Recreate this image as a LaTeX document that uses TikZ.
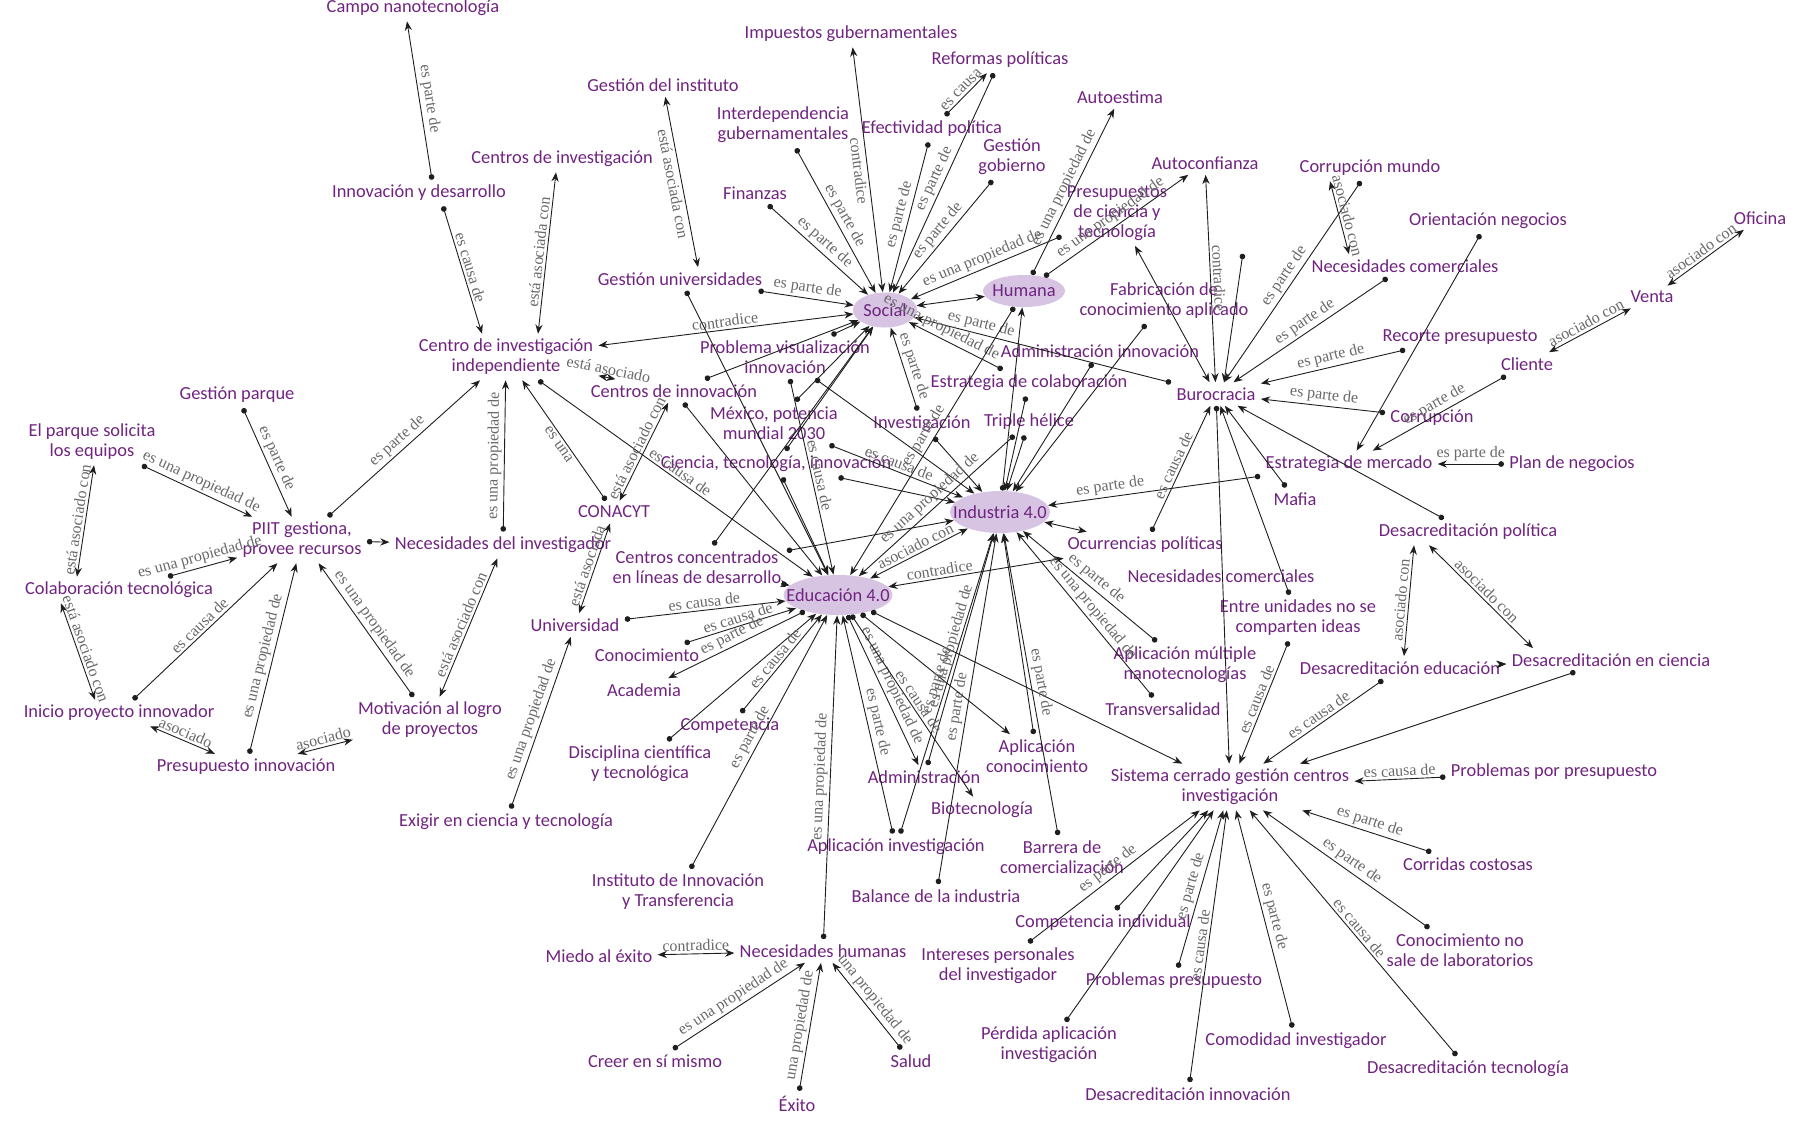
\documentclass[tikz,border=0pt]{standalone}
\usepackage{fontspec}
\setmainfont{Carlito}
\newfontfamily\LblSerif{Liberation Serif}
\usetikzlibrary{arrows.meta,shapes.geometric}
\definecolor{nodecol}{RGB}{112,36,128}
\definecolor{hubfill}{RGB}{214,196,226}
\definecolor{linecol}{RGB}{30,30,30}
\definecolor{lblcol}{RGB}{105,105,105}
\newcommand\NodeFont{\fontsize{9.2}{10}\selectfont}
\begin{document}
\begin{tikzpicture}[x=0.5pt,y=-0.5pt,
  nd/.style={text=nodecol,font=\NodeFont,align=center,inner sep=2.5pt},
  hub/.style={ellipse,fill=hubfill,inner sep=0pt},
  hubtxt/.style={text=nodecol,font=\NodeFont,inner sep=0pt},
  rel/.style={draw=linecol,line width=0.45pt,{Circle[length=2.8pt]}-{Stealth[length=4.6pt,width=3.6pt]}},
  bi/.style={draw=linecol,line width=0.45pt,{Stealth[length=4.6pt,width=3.6pt]}-{Stealth[length=4.6pt,width=3.6pt]}},
  lb/.style={font=\LblSerif\fontsize{8}{8}\selectfont,text=lblcol,sloped,inner sep=1.2pt,above}]
\useasboundingbox (0,0) rectangle (1803,1132);
% hubs
\node[hub,minimum width=32pt,minimum height=17.5pt] (social) at (885,310) {};
\node[hubtxt] at (social) {Social};
\node[hub,minimum width=41pt,minimum height=16pt] (humana) at (1024,291) {};
\node[hubtxt] at (humana) {Humana};
\node[hub,minimum width=50pt,minimum height=21pt] (ind) at (1000,512) {};
\node[hubtxt] at (ind) {Industria 4.0};
\node[hub,minimum width=54.5pt,minimum height=20pt] (edu) at (838,595) {};
\node[hubtxt] at (edu) {Educación 4.0};
% nodes
\node[nd] (campo) at (413,8) {Campo nanotecnología};
\node[nd] (innov) at (419,193) {Innovación y desarrollo};
\node[nd] (centinv) at (562,159) {Centros de investigación};
\node[nd] (gestinst) at (663,85) {Gestión del instituto};
\node[nd] (impuestos) at (851,34) {Impuestos gubernamentales};
\node[nd] (reformas) at (1000,60) {Reformas políticas};
\node[nd] (interdep) at (783,125) {Interdependencia\\gubernamentales};
\node[nd] (efectiv) at (932,129) {Efectividad política};
\node[nd] (autoestima) at (1120,97) {Autoestima};
\node[nd] (finanzas) at (755,193) {Finanzas};
\node[nd] (gestgob) at (1012,157) {Gestión\\gobierno};
\node[nd] (presup) at (1117,213) {Presupuestos\\de ciencia y\\tecnología};
\node[nd] (autoconf) at (1205,163) {Autoconfianza};
\node[nd] (corrmundo) at (1370,168) {Corrupción mundo};
\node[nd] (orient) at (1488,221) {Orientación negocios};
\node[nd] (oficina) at (1760,218) {Oficina};
\node[nd] (neccom1) at (1405,266) {Necesidades comerciales};
\node[nd] (venta) at (1652,297) {Venta};
\node[nd] (gestuniv) at (680,279) {Gestión universidades};
\node[nd] (fabric) at (1164,301) {Fabricación de\\conocimiento aplicado};
\node[nd] (recorte) at (1460,337) {Recorte presupuesto};
\node[nd] (cliente) at (1527,364) {Cliente};
\node[nd] (centroind) at (506,357) {Centro de investigación\\independiente};
\node[nd] (problema) at (785,357) {Problema visualización\\innovación};
\node[nd] (adminnov) at (1100,351) {Administración innovación};
\node[nd] (buro) at (1216,394) {Burocracia};
\node[nd] (corrupcion) at (1432,418) {Corrupción};
\node[nd] (gestparque) at (237,395) {Gestión parque};
\node[nd] (centinnov) at (674,391) {Centros de innovación};
\node[nd] (estrcolab) at (1029,383) {Estrategia de colaboración};
\node[nd] (mexico) at (774,423) {México, potencia\\mundial 2030};
\node[nd] (parque) at (92,442) {El parque solicita\\los equipos};
\node[nd] (investig) at (922,424) {Investigación};
\node[nd] (triple) at (1029,422) {Triple hélice};
\node[nd] (estrmerc) at (1349,464) {Estrategia de mercado};
\node[nd] (plan) at (1572,464) {Plan de negocios};
\node[nd] (ciencia) at (776,464) {Ciencia, tecnología, innovación};
\node[nd] (mafia) at (1295,499) {Mafia};
\node[nd] (conacyt) at (614,512) {CONACYT};
\node[nd] (piit) at (302,540) {PIIT gestiona,\\provee recursos};
\node[nd] (necinv) at (503,545) {Necesidades del investigador};
\node[nd] (ocurr) at (1145,545) {Ocurrencias políticas};
\node[nd] (desacpol) at (1468,532) {Desacreditación política};
\node[nd] (centconc) at (697,567) {Centros concentrados\\en líneas de desarrollo};
\node[nd] (neccom2) at (1221,576) {Necesidades comerciales};
\node[nd] (colab) at (119,590) {Colaboración tecnológica};
\node[nd] (univ) at (575,625) {Universidad};
\node[nd] (entre) at (1298,618) {Entre unidades no se\\comparten ideas};
\node[nd] (conoc) at (647,655) {Conocimiento};
\node[nd] (aplmult) at (1185,665) {Aplicación múltiple\\nanotecnologías};
\node[nd] (desaceduc) at (1400,668) {Desacreditación educación};
\node[nd] (desaccien) at (1611,660) {Desacreditación en ciencia};
\node[nd] (academia) at (644,690) {Academia};
\node[nd] (inicio) at (119,713) {Inicio proyecto innovador};
\node[nd] (motiv) at (430,720) {Motivación al logro\\de proyectos};
\node[nd] (compet) at (730,726) {Competencia};
\node[nd] (transv) at (1163,709) {Transversalidad};
\node[nd] (aplcon) at (1037,756) {Aplicación\\conocimiento};
\node[nd] (discip) at (640,764) {Disciplina científica\\y tecnológica};
\node[nd] (presinn) at (246,767) {Presupuesto innovación};
\node[nd] (admin) at (924,777) {Administración};
\node[nd] (sistema) at (1230,787) {Sistema cerrado gestión centros\\investigación};
\node[nd] (probpor) at (1554,772) {Problemas por presupuesto};
\node[nd] (biotec) at (982,810) {Biotecnología};
\node[nd] (exigir) at (506,822) {Exigir en ciencia y tecnología};
\node[nd] (aplinv) at (896,847) {Aplicación investigación};
\node[nd] (barrera) at (1062,857) {Barrera de\\comercialización};
\node[nd] (corridas) at (1468,864) {Corridas costosas};
\node[nd] (instit) at (678,892) {Instituto de Innovación\\y Transferencia};
\node[nd] (balance) at (936,896) {Balance de la industria};
\node[nd] (compind) at (1103,923) {Competencia individual};
\node[nd] (conocno) at (1460,950) {Conocimiento no\\sale de laboratorios};
\node[nd] (miedo) at (599,956) {Miedo al éxito};
\node[nd] (nechum) at (823,951) {Necesidades humanas};
\node[nd] (intereses) at (998,966) {Intereses personales\\del investigador};
\node[nd] (probpres) at (1174,981) {Problemas presupuesto};
\node[nd] (perdida) at (1049,1045) {Pérdida aplicación\\investigación};
\node[nd] (comodidad) at (1296,1041) {Comodidad investigador};
\node[nd] (creer) at (655,1061) {Creer en sí mismo};
\node[nd] (salud) at (911,1061) {Salud};
\node[nd] (desactec) at (1468,1069) {Desacreditación tecnología};
\node[nd] (exito) at (797,1104) {Éxito};
\node[nd] (desacinn) at (1188,1094) {Desacreditación innovación};
% left cluster
\draw[rel] ([xshift=6.5pt]innov.north) -- node[lb]{es parte de} ([xshift=-3pt]campo.south);
\draw[rel] ([xshift=12pt]innov.south) -- node[lb]{es causa de} ([xshift=-12pt]centroind.north);
\draw[bi] ([xshift=-3pt]centinv.south) -- node[lb]{está asociada con} ([xshift=16pt]centroind.north);
\draw[bi] (gestinst) -- node[lb,below]{está asociada con} ([xshift=9pt]gestuniv.north);
\draw[bi] (social) -- node[lb]{contradice} (centroind);
\draw[bi] (centinnov) -- node[lb]{está asociado} (centroind);
\draw[rel] (conacyt) -- node[lb,below]{es una} (centroind);
\draw[rel] (centroind) -- node[lb]{es causa de} (edu);
\draw[bi] (conacyt) -- node[lb]{está asociado con} (centinnov);
\draw[bi] (conacyt) -- node[lb]{está asociada} (univ);
\draw[rel] (necinv) -- node[lb]{es una propiedad de} (centroind);
\draw[rel] (piit) -- node[lb]{es parte de} (centroind);
\draw[rel] (gestparque) -- node[lb]{es parte de} (piit);
\draw[rel] (parque) -- node[lb]{es una propiedad de} (piit);
\draw[bi] ([xshift=1pt]parque.south) -- node[lb]{está asociado con} ([xshift=-21pt]colab.north);
\draw[rel] (colab) -- node[lb]{es una propiedad de} (piit);
\draw[bi] ([xshift=-29pt]colab.south) -- node[lb]{está asociado con} ([xshift=-12pt]inicio.north);
\draw[rel] (inicio) -- node[lb]{es causa de} (piit);
\draw[rel] (presinn) -- node[lb]{es una propiedad de} (piit);
\draw[rel] (motiv) -- node[lb]{es una propiedad de} (piit);
\draw[rel] (piit) -- (necinv);
\draw[bi] (necinv) -- node[lb]{está asociado con} (motiv);
\draw[bi] (inicio) -- node[lb]{asociado} (presinn);
\draw[bi] (presinn) -- node[lb]{asociado} (motiv);
\draw[rel] (exigir) -- node[lb]{es una propiedad de} (univ);
% social
\draw[bi] (impuestos) -- node[lb,below]{contradice} (social);
\draw[rel] (interdep) -- node[lb]{es parte de} (social);
\draw[rel] (finanzas) -- node[lb]{es parte de} (social);
\draw[rel] (gestuniv) -- node[lb]{es parte de} (social);
\draw[rel] (efectiv) -- node[lb]{es parte de} (social);
\draw[rel] (reformas) -- node[lb]{es parte de} (social);
\draw[rel] (efectiv) -- node[lb]{es causa} (reformas);
\draw[rel] (gestgob) -- node[lb]{es parte de} (social);
\draw[rel] (presup) -- node[lb]{es una propiedad de} (social);
\draw[rel] (humana) -- node[lb]{es una propiedad de} (autoestima);
\draw[rel] (humana) -- node[lb]{es una propiedad de} (autoconf);
\draw[bi] (social) -- (humana);
\draw[rel] (buro) -- node[lb,pos=0.75]{es parte de} (social);
\draw[rel] (estrcolab) -- node[lb,pos=0.7]{es una propiedad de} (social);
\draw[rel] (investig) -- node[lb]{es parte de} (social);
% burocracia
\draw[bi] (autoconf) -- node[lb]{contradice} (buro);
\draw[rel] ([shift={(-5.5pt,12pt)}]fabric.north east) -- ([xshift=4pt]buro.north);
\draw[rel] (corrmundo) -- node[lb]{es parte de} (buro);
\draw[bi] ([xshift=-20pt]corrmundo.south) -- node[lb]{asociado con} ([xshift=-28pt]neccom1.north);
\draw[rel] (neccom1) -- node[lb]{es parte de} (buro);
\draw[rel] (recorte) -- node[lb]{es parte de} (buro);
\draw[rel] (corrupcion) -- node[lb]{es parte de} (buro);
\draw[bi] (presup) -- (buro);
\draw[rel] (orient) -- (estrmerc);
\draw[rel] (cliente) -- node[lb]{es parte de} (estrmerc);
\draw[bi] (cliente) -- node[lb]{asociado con} (venta);
\draw[bi] (venta) -- node[lb]{asociado con} (oficina);
\draw[rel] (plan) -- node[lb]{es parte de} (estrmerc);
\draw[rel] (estrmerc) -- node[lb,pos=0.7]{es parte de} (ind);
\draw[rel] (desacpol) -- (buro);
\draw[rel] (mafia) -- (buro);
\draw[rel] (buro) -- (sistema);
\draw[rel] (entre) -- (buro);
\draw[rel] (ocurr) -- node[lb]{es causa de} (buro);
\draw[bi] (ind) -- (ocurr);
\draw[bi] (edu) -- node[lb,pos=0.3]{contradice} (ocurr);
\draw[rel] (aplmult) -- node[lb]{es parte de} (ind);
\draw[rel] (transv) -- node[lb]{es una propiedad de} (ind);
\draw[rel] (edu) -- (sistema);
\draw[rel] (entre) -- node[lb]{es causa de} (sistema);
\draw[bi] ([xshift=-27pt]desacpol.south) -- node[lb]{asociado con} ([xshift=2pt]desaceduc.north);
\draw[bi] ([xshift=-19.5pt]desacpol.south) -- node[lb]{asociado con} ([xshift=-39pt]desaccien.north);
\draw[bi] (desaceduc) -- (desaccien);
\draw[rel] (desaceduc) -- node[lb]{es causa de} (sistema);
\draw[rel] (desaccien) -- (sistema);
\draw[rel] (probpor) -- node[lb]{es causa de} (sistema);
\draw[rel] (corridas) -- node[lb]{es parte de} (sistema);
\draw[rel] (conocno) -- node[lb]{es parte de} (sistema);
\draw[rel] (desactec) -- node[lb]{es causa de} (sistema);
\draw[rel] (comodidad) -- node[lb]{es parte de} (sistema);
\draw[rel] (desacinn) -- node[lb]{es causa de} (sistema);
\draw[rel] (probpres) -- node[lb]{es parte de} (sistema);
\draw[rel] (perdida) -- (sistema);
\draw[rel] (compind) -- (sistema);
\draw[rel] (intereses) -- node[lb]{es parte de} (sistema);
% industria / educacion
\draw[rel] (barrera) -- node[lb]{es parte de} (ind);
\draw[rel] (balance) -- node[lb]{es parte de} (ind);
\draw[rel] (aplcon) -- (ind);
\draw[rel] (edu) -- (aplcon);
\draw[rel] (aplinv) -- node[lb]{es parte de} (edu);
\draw[rel] (aplinv) -- node[lb]{es parte de} (ind);
\draw[rel] (admin) -- node[lb]{es una propiedad de} (ind);
\draw[rel] (edu) -- node[lb]{es una propiedad de} (admin);
\draw[rel] (edu) -- node[lb]{es causa de} (biotec);
\draw[rel] (univ) -- node[lb]{es causa de} (edu);
\draw[rel] (conoc) -- node[lb]{es causa de} (edu);
\draw[rel] (edu) -- node[lb]{es parte de} (academia);
\draw[rel] (discip) -- (edu);
\draw[rel] (compet) -- node[lb]{es causa de} (edu);
\draw[rel] (instit) -- node[lb]{es parte de} (edu);
\draw[rel] (nechum) -- node[lb]{es una propiedad de} (edu);
\draw[bi] (miedo) -- node[lb]{contradice} (nechum);
\draw[rel] (creer) -- node[lb]{es una propiedad de} (nechum);
\draw[rel] (exito) -- node[lb]{una propiedad de} (nechum);
\draw[rel] (salud) -- node[lb]{una propiedad de} (nechum);
\draw[bi] (edu) -- node[lb]{asociado con} (ind);
\draw[rel] (gestuniv) -- (edu);
\draw[rel] (centinnov) -- (social);
\draw[rel] (centinnov) -- (edu);
\draw[rel] (mexico) -- (social);
\draw[rel] (mexico) -- node[lb]{es causa de} (ind);
\draw[rel] (ciencia) -- (social);
\draw[rel] (ciencia) -- (ind);
\draw[rel] (ciencia) -- (edu);
\draw[rel] (centconc) -- (social);
\draw[rel] (centconc) -- (ind);
\draw[rel] (centconc) -- (edu);
\draw[rel] (problema) -- (social);
\draw[rel] (problema) -- node[lb]{es causa de} (edu);
\draw[rel] (problema) -- (ind);
\draw[rel] (investig) -- (ind);
\draw[rel] (triple) -- (ind);
\draw[rel] (estrcolab) -- (ind);
\draw[rel] (humana) -- node[lb]{es parte de} (edu);
\draw[rel] (triple) -- node[lb]{es una propiedad de} (edu);
\draw[rel] (ind) -- (humana);
\draw[rel] (adminnov) -- (ind);
\draw[rel] (fabric) -- (ind);
\end{tikzpicture}
\end{document}
